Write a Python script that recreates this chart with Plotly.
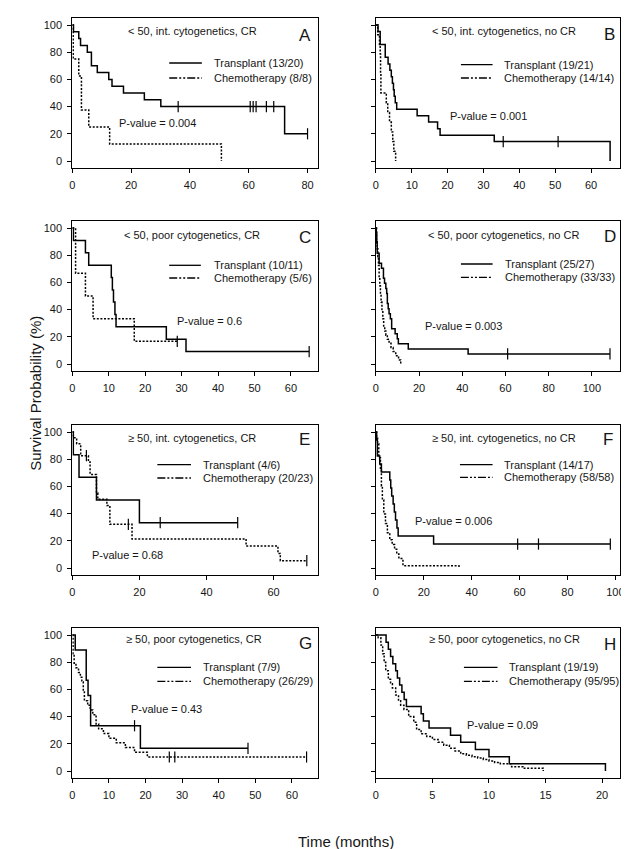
import plotly.graph_objects as go

W, H = 629, 849

# ---------------- data ----------------
y_ticks = [0, 20, 40, 60, 80, 100]

# Panel A
A_xticks = [0, 20, 40, 60, 80]
A_tx_t = [0, 0.4, 2.2, 2.8, 5.1, 6.5, 8.5, 12.4, 13.5, 17.4, 24.5, 30.1, 72.2, 80]
A_tx_s = [100, 95, 90, 85, 80, 70, 65, 60, 55, 50, 45, 40, 20, 20]
A_tx_cens_t = [36, 60.5, 61.5, 62.5, 66, 68.5, 80]
A_tx_cens_s = [40, 40, 40, 40, 40, 40, 20]
A_ch_t = [0, 0.3, 2.2, 3.1, 5.6, 12.7, 50.7]
A_ch_s = [100, 75, 62.5, 37.5, 25, 12.5, 0]
A_ch_cens_t = []
A_ch_cens_s = []

# Panel B
B_xticks = [0, 10, 20, 30, 40, 50, 60]
B_tx_t = [0, 0.6, 1.2, 2.6, 3.4, 3.9, 4.3, 4.6, 4.9, 5.1, 5.4, 5.8, 11.5, 14.7, 17.2, 17.9, 33.0, 65.3]
B_tx_s = [100, 95.2, 85.7, 76.2, 71.4, 66.7, 61.9, 57.1, 52.4, 47.6, 42.9, 38.1, 33.3, 28.6, 23.8, 19.0, 14.3, 0]
B_tx_cens_t = [35.5, 50.8]
B_tx_cens_s = [14.3, 14.3]
B_ch_t = [0, 0.5, 1.0, 1.2, 1.3, 1.4, 2.9, 3.3, 3.8, 4.3, 4.7, 5.0, 5.5]
B_ch_s = [100, 92.9, 85.7, 78.6, 64.3, 50.0, 42.9, 35.7, 28.6, 21.4, 14.3, 7.1, 0]
B_ch_cens_t = []
B_ch_cens_s = []

# Panel C
C_xticks = [0, 10, 20, 30, 40, 50, 60]
C_tx_t = [0, 0.3, 3.6, 4.5, 10.7, 11.0, 11.3, 11.7, 12.0, 25.8, 31.2, 65.0]
C_tx_s = [100, 90.9, 81.8, 72.7, 63.6, 54.5, 45.5, 36.4, 27.3, 18.2, 9.1, 9.1]
C_tx_cens_t = [65.0]
C_tx_cens_s = [9.1]
C_ch_t = [0, 0.9, 3.6, 5.7, 17.0, 28.8]
C_ch_s = [100, 66.7, 50, 33.3, 16.7, 16.7]
C_ch_cens_t = [28.8]
C_ch_cens_s = [16.7]

# Panel D
D_xticks = [0, 20, 40, 60, 80, 100]
D_tx_t = [0, 0.2, 0.4, 0.6, 1.5, 2.6, 3.5, 4.0, 4.6, 5.0, 5.3, 5.7, 6.1, 6.7, 7.3, 8.9, 9.9, 10.4, 15.0, 42.7, 108.4]
D_tx_s = [100, 96.3, 88.9, 81.5, 74.1, 70.4, 63.0, 59.3, 55.6, 51.9, 44.4, 40.7, 37.0, 33.3, 25.9, 22.2, 18.5, 14.8, 11.1, 7.4, 7.4]
D_tx_cens_t = [61, 108.4]
D_tx_cens_s = [7.4, 7.4]
D_ch_t = [0, 0.3, 0.6, 0.9, 1.2, 1.5, 1.8, 2.1, 2.4, 2.8, 3.2, 3.6, 4.1, 4.6, 5.3, 6.1, 7.0, 8.0, 9.2, 10.5, 11.5]
D_ch_s = [100, 90.9, 84.8, 78.8, 72.7, 63.6, 57.6, 51.5, 45.5, 39.4, 33.3, 27.3, 24.2, 21.2, 18.2, 15.2, 12.1, 9.1, 6.1, 3.0, 0]
D_ch_cens_t = []
D_ch_cens_s = []

# Panel E
E_xticks = [0, 20, 40, 60]
E_tx_t = [0, 0.3, 2.0, 7.2, 20.0, 49.3]
E_tx_s = [100, 83.3, 66.7, 50, 33.3, 33.3]
E_tx_cens_t = [26.2, 49.3]
E_tx_cens_s = [33.3, 33.3]
E_ch_t = [0, 0.3, 1.3, 2.5, 4.8, 5.3, 7.2, 7.6, 10.3, 11.2, 17.8, 51.8, 61.3, 62.0, 69.9]
E_ch_s = [100, 95.7, 91.3, 82.6, 78.0, 68.8, 55.1, 50.5, 45.9, 32.1, 21.4, 16.1, 10.7, 5.4, 5.4]
E_ch_cens_t = [4.2, 16.7, 69.9]
E_ch_cens_s = [82.6, 32.1, 5.4]

# Panel F
F_xticks = [0, 20, 40, 60, 80, 100]
F_tx_t = [0, 0.3, 0.6, 1.6, 2.3, 5.8, 6.2, 6.6, 7.2, 7.7, 8.2, 8.8, 9.3, 24.1, 97.9]
F_tx_s = [100, 94.1, 82.4, 76.5, 70.6, 64.7, 58.8, 52.9, 47.1, 41.2, 35.3, 29.4, 23.5, 17.6, 17.6]
F_tx_cens_t = [59.2, 67.9, 97.9]
F_tx_cens_s = [17.6, 17.6, 17.6]
F_ch_t = [0, 0.3, 0.7, 1.2, 1.9, 2.3, 2.7, 3.3, 4.0, 4.8, 5.8, 6.8, 7.8, 8.7, 9.6, 11.3, 34.7]
F_ch_s = [100, 96.6, 91.4, 81.0, 72.4, 60.3, 50.0, 39.7, 32.8, 25.9, 20.7, 17.2, 13.8, 10.3, 6.9, 1.7, 0]
F_ch_cens_t = []
F_ch_cens_s = []

# Panel G
G_xticks = [0, 10, 20, 30, 40, 50, 60]
G_tx_t = [0, 0.8, 3.8, 4.3, 5.0, 18.6, 48]
G_tx_s = [100, 88.9, 66.7, 55.6, 33.3, 16.7, 16.7]
G_tx_cens_t = [17, 48]
G_tx_cens_s = [33.3, 16.7]
G_ch_t = [0, 0.2, 0.5, 1.0, 1.7, 2.2, 2.6, 3.0, 3.3, 4.2, 4.9, 5.6, 6.5, 7.2, 8.5, 10, 12, 14.5, 17, 20.5, 64]
G_ch_s = [100, 86.2, 79.3, 75.9, 72.4, 69.0, 65.5, 58.6, 51.7, 48.3, 44.8, 41.4, 34.5, 31.0, 27.6, 24.1, 20.7, 17.2, 13.8, 10.3, 10.3]
G_ch_cens_t = [26.5, 28, 64]
G_ch_cens_s = [10.3, 10.3, 10.3]

# Panel H
H_xticks = [0, 5, 10, 15, 20]
H_tx_t = [0, 0.9, 1.1, 1.3, 1.5, 1.75, 1.9, 2.1, 2.3, 2.5, 2.7, 4.0, 4.2, 4.7, 6.6, 7.5, 8.8, 10.0, 11.8, 20.3]
H_tx_s = [100, 94.7, 89.5, 84.2, 78.9, 73.7, 68.4, 63.2, 57.9, 52.6, 47.4, 42.1, 36.8, 31.6, 26.3, 21.1, 15.8, 10.5, 5.3, 0]
H_tx_cens_t = []
H_tx_cens_s = []
H_ch_t = [0, 0.2, 0.44, 0.6, 0.73, 0.87, 1.1, 1.3, 1.46, 1.75, 2.0, 2.19, 2.48, 2.9, 3.35, 3.6, 4.0, 4.5,
          5.0, 5.5, 6.0, 6.5, 7.0, 7.5, 8.0, 8.5, 9.0, 9.5, 10.0, 10.5, 11.0, 12.0, 13.0, 14.8]
H_ch_s = [100, 97.9, 92.6, 86.3, 80.0, 73.7, 67.4, 64.2, 61.1, 55.8, 51.6, 48.4, 45.3, 40.0, 35.8, 30.5, 27.4, 25.3,
          23.2, 21.1, 18.9, 16.8, 14.7, 12.6, 11.6, 10.5, 9.5, 8.4, 7.4, 6.3, 5.3, 3.2, 2.1, 0]
H_ch_cens_t = []
H_ch_cens_s = []

letters = ["A", "B", "C", "D", "E", "F", "G", "H"]
titles = [
    "< 50, int. cytogenetics, CR", "< 50, int. cytogenetics, no CR",
    "< 50, poor cytogenetics, CR", "< 50, poor cytogenetics, no CR",
    "≥ 50, int. cytogenetics, CR", "≥ 50, int. cytogenetics, no CR",
    "≥ 50, poor cytogenetics, CR", "≥ 50, poor cytogenetics, no CR",
]
tx_labels = ["Transplant (13/20)", "Transplant (19/21)", "Transplant (10/11)", "Transplant (25/27)",
             "Transplant (4/6)", "Transplant (14/17)", "Transplant (7/9)", "Transplant (19/19)"]
ch_labels = ["Chemotherapy (8/8)", "Chemotherapy (14/14)", "Chemotherapy (5/6)", "Chemotherapy (33/33)",
             "Chemotherapy (20/23)", "Chemotherapy (58/58)", "Chemotherapy (26/29)", "Chemotherapy (95/95)"]
p_labels = ["P-value = 0.004", "P-value = 0.001", "P-value = 0.6", "P-value = 0.003",
            "P-value = 0.68", "P-value = 0.006", "P-value = 0.43", "P-value = 0.09"]

data = {
    "A": (A_tx_t, A_tx_s, A_tx_cens_t, A_tx_cens_s, A_ch_t, A_ch_s, A_ch_cens_t, A_ch_cens_s, A_xticks),
    "B": (B_tx_t, B_tx_s, B_tx_cens_t, B_tx_cens_s, B_ch_t, B_ch_s, B_ch_cens_t, B_ch_cens_s, B_xticks),
    "C": (C_tx_t, C_tx_s, C_tx_cens_t, C_tx_cens_s, C_ch_t, C_ch_s, C_ch_cens_t, C_ch_cens_s, C_xticks),
    "D": (D_tx_t, D_tx_s, D_tx_cens_t, D_tx_cens_s, D_ch_t, D_ch_s, D_ch_cens_t, D_ch_cens_s, D_xticks),
    "E": (E_tx_t, E_tx_s, E_tx_cens_t, E_tx_cens_s, E_ch_t, E_ch_s, E_ch_cens_t, E_ch_cens_s, E_xticks),
    "F": (F_tx_t, F_tx_s, F_tx_cens_t, F_tx_cens_s, F_ch_t, F_ch_s, F_ch_cens_t, F_ch_cens_s, F_xticks),
    "G": (G_tx_t, G_tx_s, G_tx_cens_t, G_tx_cens_s, G_ch_t, G_ch_s, G_ch_cens_t, G_ch_cens_s, G_xticks),
    "H": (H_tx_t, H_tx_s, H_tx_cens_t, H_tx_cens_s, H_ch_t, H_ch_s, H_ch_cens_t, H_ch_cens_s, H_xticks),
}

# ---------------- layout geometry (pixels) ----------------
col_px = [(62, 310), (369, 616)]
row_top = [10, 213, 417, 620]
PANEL_H = 150
x_max = {"A": 83.4, "B": 68.1, "C": 67.3, "D": 113.1, "E": 73.1, "F": 102.0, "G": 67.0, "H": 21.6}
title_y = {"A": 13.3, "B": 13, "C": 13.7, "D": 13.7, "E": 13, "F": 13, "G": 10.5, "H": 10.5}
letter_y = {"A": 17, "B": 16.7, "C": 17, "D": 15.3, "E": 14.7, "F": 14.7, "G": 15, "H": 16}
leg_y = {"A": (45, 60), "B": (46.7, 60), "C": (44.3, 57), "D": (43, 56.3),
         "E": (39.7, 53), "F": (39.7, 52.3), "G": (39.3, 53.3), "H": (39.3, 53.3)}
leg_x = {"A": (160, 193, 203), "B": (455, 487, 497), "C": (160, 192, 203), "D": (455, 487, 498),
         "E": (148, 182, 192), "F": (454, 487, 497), "G": (148, 182, 192), "H": (458, 492, 502)}
p_pos = {"A": (148, 105), "B": (482.5, 98.3), "C": (200.5, 100.3), "D": (458, 105.3),
         "E": (118.3, 129.7), "F": (447.5, 95.7), "G": (157, 80.7), "H": (497, 96.7)}
title_x = {"A": 183.5, "B": 498.5, "C": 183, "D": 498, "E": 183, "F": 498.5, "G": 184.7, "H": 499}
letter_x = {"A": 297, "B": 605, "C": 297, "D": 606, "E": 297, "F": 604, "G": 298, "H": 606}

FONT = "Arial, 'Liberation Sans', sans-serif"
TXT = "#151515"

def px(x):
    return x / W

def py(y):
    return 1 - y / H

fig = go.Figure()
annotations = []
shapes = []
layout_axes = {}

for i, key in enumerate(letters):
    row, col = divmod(i, 2)
    L, R = col_px[col]
    T = row_top[row]
    tx_t, tx_s, txc_t, txc_s, ch_t, ch_s, chc_t, chc_s, xticks = data[key]
    xa = "x" if i == 0 else f"x{i+1}"
    ya = "y" if i == 0 else f"y{i+1}"
    xname = "xaxis" if i == 0 else f"xaxis{i+1}"
    yname = "yaxis" if i == 0 else f"yaxis{i+1}"

    fig.add_trace(go.Scatter(x=ch_t, y=ch_s, mode="lines", xaxis=xa, yaxis=ya,
                             line=dict(shape="hv", color="black", width=1.5, dash="2px,1.6px"),
                             showlegend=False, hoverinfo="skip"))
    fig.add_trace(go.Scatter(x=tx_t, y=tx_s, mode="lines", xaxis=xa, yaxis=ya,
                             line=dict(shape="hv", color="black", width=1.5),
                             showlegend=False, hoverinfo="skip"))
    for ct, cs in ((txc_t, txc_s), (chc_t, chc_s)):
        if ct:
            fig.add_trace(go.Scatter(x=ct, y=cs, mode="markers", xaxis=xa, yaxis=ya,
                                     marker=dict(symbol="line-ns-open", size=8, color="black",
                                                 line=dict(width=1.2, color="black")),
                                     showlegend=False, hoverinfo="skip", cliponaxis=False))

    layout_axes[xname] = dict(domain=[px(L), px(R)], range=[0, x_max[key]], anchor=ya,
                              tickvals=xticks, ticks="outside", ticklen=4, tickcolor="black",
                              showline=True, mirror=True, linecolor="black", linewidth=1,
                              showgrid=False, zeroline=False, ticklabelstandoff=3,
                              tickfont=dict(family=FONT, size=11, color=TXT))
    layout_axes[yname] = dict(domain=[py(T + PANEL_H), py(T)], range=[-5.15, 105.15], anchor=xa,
                              tickvals=y_ticks, ticks="outside", ticklen=4, tickcolor="black",
                              showticklabels=(col == 0),
                              showline=True, mirror=True, linecolor="black", linewidth=1,
                              showgrid=False, zeroline=False, ticklabelstandoff=3,
                              tickfont=dict(family=FONT, size=11, color=TXT))

    annotations.append(dict(x=px(title_x[key]), y=py(T + title_y[key]), xref="paper", yref="paper",
                            text=titles[i], showarrow=False, xanchor="center", yanchor="middle",
                            font=dict(family=FONT, size=11, color=TXT)))
    annotations.append(dict(x=px(letter_x[key]), y=py(T + letter_y[key]), xref="paper", yref="paper",
                            text=key, showarrow=False, xanchor="center", yanchor="middle",
                            font=dict(family=FONT, size=17, color=TXT)))
    lx0, lx1, ltx = leg_x[key]
    ly1, ly2 = leg_y[key]
    shapes.append(dict(type="line", xref="paper", yref="paper", x0=px(lx0), x1=px(lx1),
                       y0=py(T + ly1), y1=py(T + ly1), line=dict(color="black", width=1.3)))
    shapes.append(dict(type="line", xref="paper", yref="paper", x0=px(lx0), x1=px(lx1),
                       y0=py(T + ly2), y1=py(T + ly2),
                       line=dict(color="black", width=1.3, dash="8px,2px,2px,2px,2px,2px")))
    annotations.append(dict(x=px(ltx), y=py(T + ly1), xref="paper", yref="paper",
                            text=tx_labels[i], showarrow=False, xanchor="left", yanchor="middle",
                            font=dict(family=FONT, size=11, color=TXT)))
    annotations.append(dict(x=px(ltx), y=py(T + ly2), xref="paper", yref="paper",
                            text=ch_labels[i], showarrow=False, xanchor="left", yanchor="middle",
                            font=dict(family=FONT, size=11, color=TXT)))
    pxc, pyr = p_pos[key]
    annotations.append(dict(x=px(pxc), y=py(T + pyr), xref="paper", yref="paper",
                            text=p_labels[i], showarrow=False, xanchor="center", yanchor="middle",
                            font=dict(family=FONT, size=11, color=TXT)))

annotations.append(dict(x=px(24), y=py(385), xref="paper", yref="paper",
                        text="Survival Probability (%)", showarrow=False, textangle=-90,
                        xanchor="center", yanchor="middle",
                        font=dict(family=FONT, size=15, color=TXT)))
annotations.append(dict(x=px(339), y=py(833), xref="paper", yref="paper",
                        text="Time (months)", showarrow=False,
                        xanchor="center", yanchor="middle",
                        font=dict(family=FONT, size=15, color=TXT)))

fig.update_layout(width=W, height=H, margin=dict(l=0, r=0, t=0, b=0),
                  paper_bgcolor="white", plot_bgcolor="white",
                  annotations=annotations, shapes=shapes, showlegend=False,
                  **layout_axes)

fig.write_html("out.html")
